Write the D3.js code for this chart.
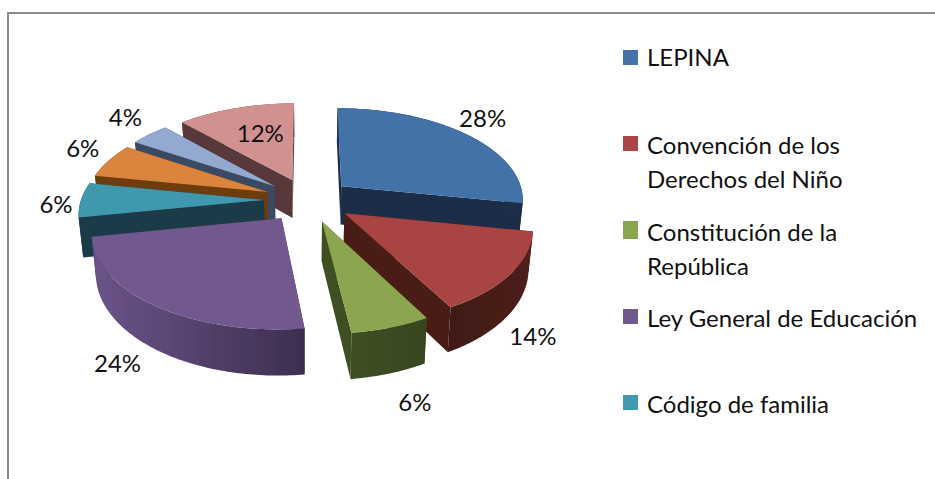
<!DOCTYPE html>
<html>
<head>
<meta charset="utf-8">
<script src="https://cdn.jsdelivr.net/npm/d3@7"></script>
<style>
html,body{margin:0;padding:0;background:#fff;}
svg{display:block;}
text{font-family:Lato,"Open Sans",sans-serif;fill:#111;}
</style>
</head>
<body>
<svg id="chart" width="935" height="479"></svg>
<script>
// ---- data ----
const values = [28, 14, 6, 24, 6, 6, 4, 12];
const percentLabels = ["28%", "14%", "6%", "24%", "6%", "6%", "4%", "12%"];
const legendEntries = [
  ["LEPINA"],
  ["Convención de los", "Derechos del Niño"],
  ["Constitución de la", "República"],
  ["Ley General de Educación"],
  ["Código de familia"]
];
// ---- styles ----
const legendColors = ["#4572a7", "#aa4643", "#89a54e", "#71588f", "#4198af"];
const topColors  = ["#4272a8", "#a84442", "#8ba64f", "#71588f", "#4198af", "#db843d", "#93a9cf", "#d09190"];
const cutColors  = ["#1b2d46", "#4a1c18", "#3f5023", "#3e2f52", "#1b3b48", "#6e3c0e", "#3a4a63", "#58393a"];
const rimLeft    = ["#22385a", "#3f1916", "#3f5023", "#6c5489", "#1b3b48", "#6e3c0e", "#3a4a63", "#58393a"];
const rimRight   = ["#1b2d46", "#4f201b", "#37451f", "#3d2e50", "#1b3b48", "#6e3c0e", "#3a4a63", "#58393a"];
const labelOffsets = [[16,-15],[22,63],[24,76],[-37,58],[-25,5],[-26,-12],[-24,-16],[25,26]];
const drawOrder = [7, 0, 6, 5, 4, 3, 1, 2];
// ---- legend layout ----
const legendTops = [50, 136, 221, 309, 395];
const legendHeights = [15, 15, 18, 15, 15];
const legendBaselines = [16, 18, 20, 18, 18];

// ---- geometry ----
const cx = 308, cy = 200, R = 183, explode = 44, k = 0.5, persp = 0.13, depth = 39, taper = 0.02;

const svg = d3.select("#chart");

// frame
svg.append("path").attr("d", d3.line()([[8, 479], [8, 13], [935, 13]]))
  .attr("fill", "none").attr("stroke", "#8a8a8a").attr("stroke-width", 2);

const pieData = d3.pie().sort(null).value(d => d)(values);
const project = (x, y, z) => {
  const s = 1 / (1 - persp * y / R);
  return [cx + x * s * (1 - taper * z / depth), cy + (k * y + z) * s];
};
const line = d3.line();
const step = Math.PI / 180;
const defs = svg.append("defs");
defs.append("filter").attr("id", "soft").attr("x", "-5%").attr("y", "-5%").attr("width", "110%").attr("height", "110%")
  .append("feGaussianBlur").attr("stdDeviation", 0.55);

const pieG = svg.append("g").attr("filter", "url(#soft)");

drawOrder.forEach(i => {
  const d = pieData[i];
  const mid = (d.startAngle + d.endAngle) / 2;
  const ox = explode * Math.sin(mid), oy = -explode * Math.cos(mid);
  const pt = (a, r, z) => project(ox + r * Math.sin(a), oy - r * Math.cos(a), z);
  const angles = d3.range(d.startAngle, d.endAngle, step).concat([d.endAngle]);
  const rimTop = angles.map(a => pt(a, R, 0));
  const rimBot = angles.map(a => pt(a, R, depth));
  const g = pieG.append("g");

  // cut walls
  [d.startAngle, d.endAngle].forEach(a => {
    g.append("path")
      .attr("d", line([pt(a, 0, 0), pt(a, R, 0), pt(a, R, depth), pt(a, 0, depth)]) + "Z")
      .attr("fill", cutColors[i]);
  });
  // outer wall
  const gid = "rim" + i;
  const grad = defs.append("linearGradient").attr("id", gid);
  grad.append("stop").attr("offset", 0).attr("stop-color", rimLeft[i]);
  grad.append("stop").attr("offset", 1).attr("stop-color", rimRight[i]);
  g.append("path")
    .attr("d", line(rimTop.concat(rimBot.slice().reverse())) + "Z")
    .attr("fill", `url(#${gid})`);
  // top face
  g.append("path")
    .attr("d", line([pt(0, 0, 0)].concat(rimTop)) + "Z")
    .attr("fill", topColors[i]);
});

// percent labels
const labelAnchor = d => {
  const mid = (d.startAngle + d.endAngle) / 2;
  return project((explode + R) * Math.sin(mid), -(explode + R) * Math.cos(mid), 0);
};
svg.append("g").selectAll("text").data(pieData).join("text")
  .attr("text-anchor", "middle")
  .attr("font-size", 24)
  .attr("x", (d, i) => labelAnchor(d)[0] + labelOffsets[i][0])
  .attr("y", (d, i) => labelAnchor(d)[1] + labelOffsets[i][1] + 8)
  .text((d, i) => percentLabels[i]);

// legend
const legend = svg.append("g").selectAll("g").data(legendEntries).join("g")
  .attr("transform", (d, i) => `translate(623,${legendTops[i]})`);
legend.append("rect").attr("width", 15).attr("height", (d, i) => legendHeights[i])
  .attr("fill", (d, i) => legendColors[i]);
legend.each(function (lines, i) {
  d3.select(this).selectAll("text").data(lines).join("text")
    .attr("x", 24)
    .attr("y", (d, j) => legendBaselines[i] + j * 34)
    .attr("font-size", 24)
    .text(d => d);
});
</script>
</body>
</html>
